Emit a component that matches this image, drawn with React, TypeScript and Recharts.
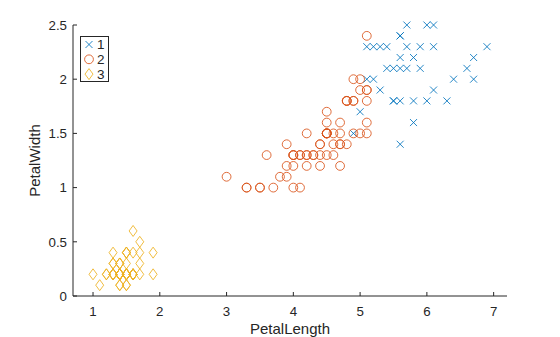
import { ScatterChart, Scatter, XAxis, YAxis, Legend } from "recharts";

// cluster 1 (blue crosses)
const c1Length = [
  6.0, 5.9, 5.6, 5.8, 6.6, 6.3, 5.8, 6.1, 5.1, 5.3, 5.5, 5.3, 5.5, 6.7, 6.9, 5.7, 6.7, 5.7, 6.0,
  5.6, 5.8, 6.1, 6.4, 5.6, 5.6, 6.1, 5.6, 5.5, 5.4, 5.6, 5.1, 5.9, 5.7, 5.2, 5.2, 5.4, 4.9, 5.0,
];
const c1Width = [
  2.5, 2.1, 1.8, 2.2, 2.1, 1.8, 1.8, 2.5, 2.0, 1.9, 2.1, 2.3, 1.8, 2.2, 2.3, 2.3, 2.0, 2.1, 1.8,
  2.1, 1.6, 1.9, 2.0, 2.2, 1.4, 2.3, 2.4, 1.8, 2.1, 2.4, 2.3, 2.3, 2.5, 2.3, 2.0, 2.3, 1.5, 1.7,
];

// cluster 2 (orange circles)
const c2Length = [
  4.7, 4.5, 4.0, 4.6, 4.5, 4.7, 3.3, 4.6, 3.9, 3.5, 4.2, 4.0, 4.7, 3.6, 4.4, 4.5, 4.1, 4.5, 3.9,
  4.8, 4.0, 4.9, 4.7, 4.3, 4.4, 4.8, 4.5, 3.5, 3.8, 3.7, 3.9, 5.1, 4.5, 4.5, 4.7, 4.4, 4.1, 4.0,
  4.4, 4.6, 4.0, 3.3, 4.2, 4.2, 4.2, 4.3, 3.0, 4.1, 5.1, 4.5, 5.0, 5.1, 5.0, 4.9, 4.9, 4.8, 4.9,
  5.1, 4.8, 5.1, 5.0, 5.1,
];
const c2Width = [
  1.4, 1.5, 1.3, 1.5, 1.3, 1.6, 1.0, 1.3, 1.4, 1.0, 1.5, 1.0, 1.4, 1.3, 1.4, 1.5, 1.0, 1.5, 1.1,
  1.8, 1.3, 1.5, 1.2, 1.3, 1.4, 1.4, 1.5, 1.0, 1.1, 1.0, 1.2, 1.6, 1.5, 1.6, 1.5, 1.3, 1.3, 1.3,
  1.2, 1.4, 1.2, 1.0, 1.3, 1.2, 1.3, 1.3, 1.1, 1.3, 1.9, 1.7, 2.0, 2.4, 1.5, 2.0, 1.8, 1.8, 1.8,
  1.5, 1.8, 1.9, 1.9, 1.8,
];

// cluster 3 (yellow diamonds)
const c3Length = [
  1.4, 1.4, 1.3, 1.5, 1.4, 1.7, 1.4, 1.5, 1.4, 1.5, 1.5, 1.6, 1.4, 1.1, 1.2, 1.5, 1.3, 1.4, 1.7,
  1.5, 1.7, 1.5, 1.0, 1.7, 1.9, 1.6, 1.6, 1.5, 1.4, 1.6, 1.6, 1.5, 1.5, 1.4, 1.5, 1.2, 1.3, 1.4,
  1.3, 1.5, 1.3, 1.3, 1.3, 1.6, 1.9, 1.4, 1.6, 1.4, 1.5, 1.4,
];
const c3Width = [
  0.2, 0.2, 0.2, 0.2, 0.2, 0.4, 0.3, 0.2, 0.2, 0.1, 0.2, 0.2, 0.1, 0.1, 0.2, 0.4, 0.4, 0.3, 0.3,
  0.3, 0.2, 0.4, 0.2, 0.5, 0.2, 0.2, 0.4, 0.2, 0.2, 0.2, 0.2, 0.4, 0.1, 0.2, 0.2, 0.2, 0.2, 0.1,
  0.2, 0.2, 0.3, 0.3, 0.2, 0.6, 0.4, 0.3, 0.2, 0.2, 0.2, 0.2,
];

const xTicks = [1, 2, 3, 4, 5, 6, 7];
const yTicks = [0, 0.5, 1, 1.5, 2, 2.5];
const groupNames = ["1", "2", "3"];

const BLUE = "#0072BD";
const ORANGE = "#D95319";
const YELLOW = "#EDB120";
const AXIS = "#262626";
const FONT = "'Liberation Sans', Arial, Helvetica, sans-serif";
const SW = 0.85;

const toPoints = (xs: number[], ys: number[]) => xs.map((x, i) => ({ x, y: ys[i] }));

const Cross = ({ cx, cy }: any) => (
  <g stroke={BLUE} strokeWidth={SW}>
    <line x1={cx - 3.5} y1={cy - 3.5} x2={cx + 3.5} y2={cy + 3.5} />
    <line x1={cx - 3.5} y1={cy + 3.5} x2={cx + 3.5} y2={cy - 3.5} />
  </g>
);

const Ring = ({ cx, cy }: any) => (
  <circle cx={cx} cy={cy} r={4.4} fill="none" stroke={ORANGE} strokeWidth={SW} />
);

const Diamond = ({ cx, cy }: any) => (
  <path
    d={`M${cx},${cy - 5.5}L${cx + 4},${cy}L${cx},${cy + 5.5}L${cx - 4},${cy}Z`}
    fill="none"
    stroke={YELLOW}
    strokeWidth={SW}
  />
);

const markers = [Cross, Ring, Diamond];

const LegendBox = () => (
  <svg width={30} height={47} style={{ display: "block" }}>
    <rect x={0.5} y={0.5} width={28} height={45} fill="#fff" stroke={AXIS} strokeWidth={1} />
    {groupNames.map((name, i) => {
      const M = markers[i];
      const cy = 8.5 + i * 14.8;
      return (
        <g key={name}>
          <M cx={9} cy={cy} />
          <text x={17} y={cy + 4.8} fontSize={13.5} fontFamily={FONT} fill={AXIS}>
            {name}
          </text>
        </g>
      );
    })}
  </svg>
);

export default function App() {
  return (
    <div style={{ position: "absolute", left: 0, top: 0 }}>
      <ScatterChart
        width={560}
        height={337}
        margin={{ top: 25, right: 53, bottom: 0, left: 0 }}
        style={{ fontFamily: FONT }}
      >
        <XAxis
          type="number"
          dataKey="x"
          domain={[0.7, 7.2]}
          ticks={xTicks}
          height={41}
          stroke={AXIS}
          tickSize={-4}
          tickMargin={15}
          tick={{ fill: AXIS, fontSize: 13.3 }}
          label={{ value: "PetalLength", position: "insideBottom", offset: 3, fill: AXIS, fontSize: 15 }}
        />
        <YAxis
          type="number"
          dataKey="y"
          domain={[0, 2.5]}
          ticks={yTicks}
          width={73}
          stroke={AXIS}
          tickSize={-4}
          tickMargin={10}
          tick={{ fill: AXIS, fontSize: 13.3 }}
          label={{
            content: (props: any) => {
              const vb = props.viewBox || { x: 0, y: 25, height: 271 };
              const cx = 40;
              const cy = vb.y + vb.height / 2;
              return (
                <text
                  x={cx}
                  y={cy}
                  transform={`rotate(-90 ${cx} ${cy})`}
                  textAnchor="middle"
                  fontSize={15}
                  fill={AXIS}
                  fontFamily={FONT}
                >
                  PetalWidth
                </text>
              );
            },
          }}
        />
        <Legend
          layout="vertical"
          align="center"
          verticalAlign="middle"
          wrapperStyle={{ left: 80, top: 36, width: 30, height: 47 }}
          content={() => <LegendBox />}
        />
        <Scatter name="1" data={toPoints(c1Length, c1Width)} shape={<Cross />} isAnimationActive={false} />
        <Scatter name="2" data={toPoints(c2Length, c2Width)} shape={<Ring />} isAnimationActive={false} />
        <Scatter name="3" data={toPoints(c3Length, c3Width)} shape={<Diamond />} isAnimationActive={false} />
      </ScatterChart>
    </div>
  );
}
